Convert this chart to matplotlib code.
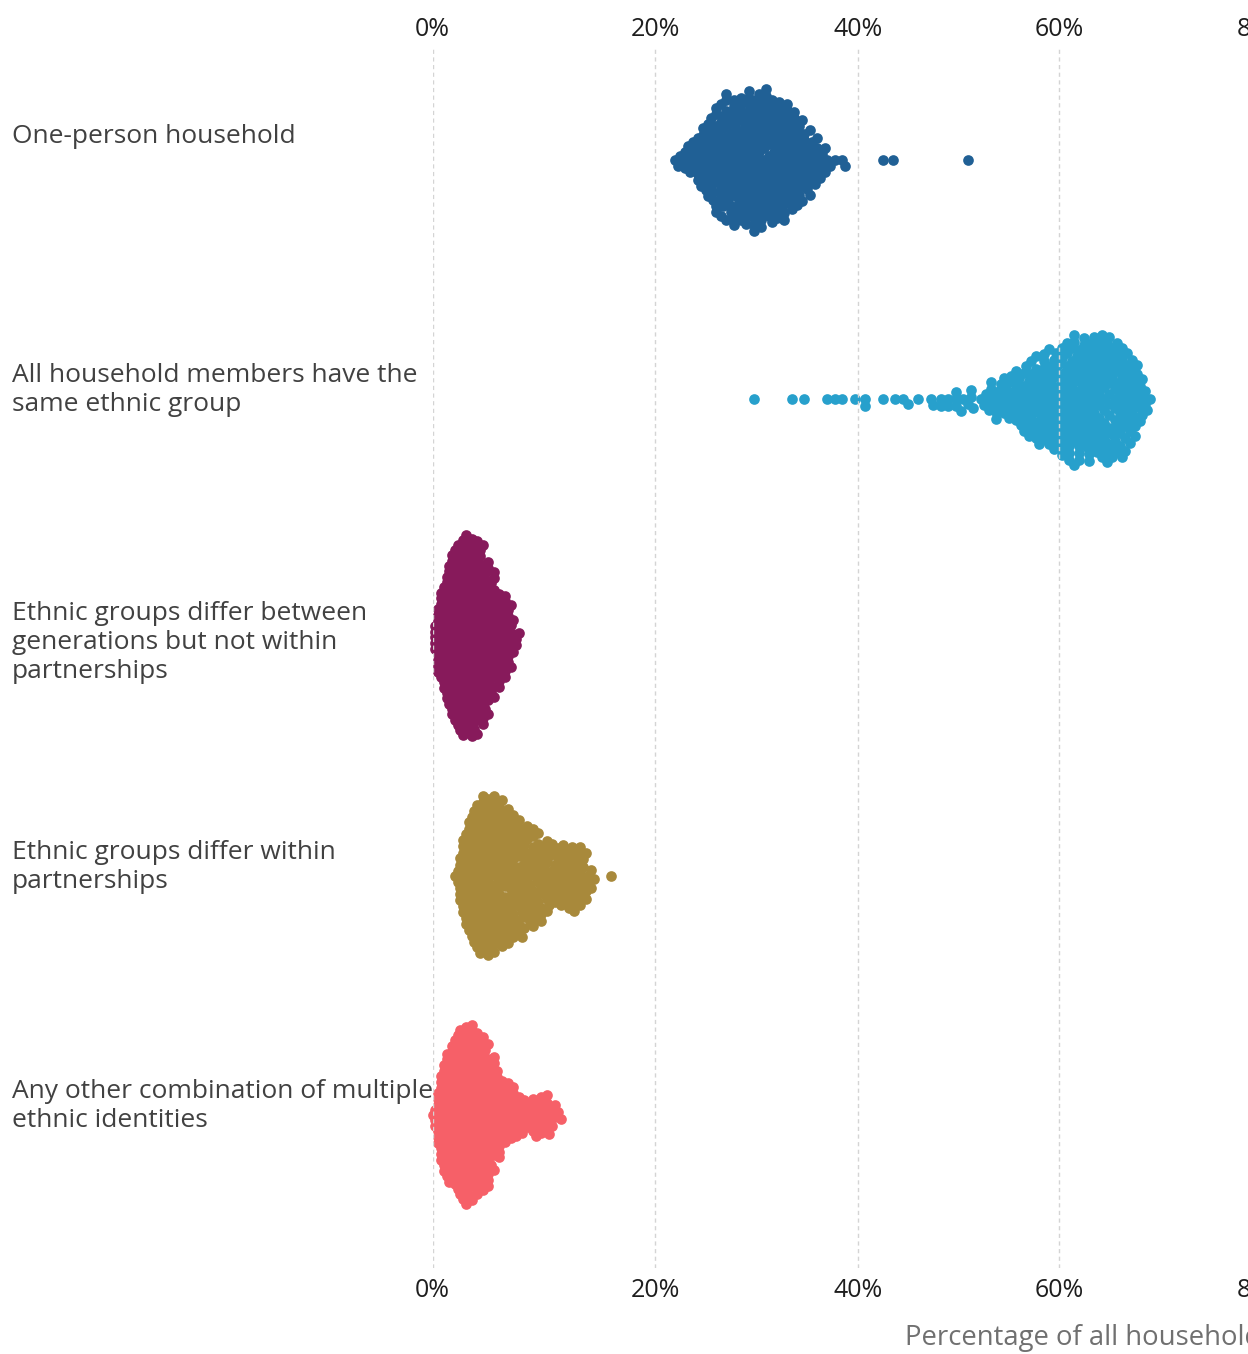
import numpy as np
import matplotlib
matplotlib.use("Agg")
import matplotlib.pyplot as plt
from matplotlib import transforms

plt.rcParams['font.family'] = ['Open Sans', 'DejaVu Sans']

categories = [
    "One-person household",
    "All household members have the\nsame ethnic group",
    "Ethnic groups differ between\ngenerations but not within\npartnerships",
    "Ethnic groups differ within\npartnerships",
    "Any other combination of multiple\nethnic identities",
]
colors = ["#206095", "#27a0cc", "#871a5b", "#a8893b", "#f66068"]

# share of households (%) per area, read off the swarms in 0.25% steps,
# with how many areas sit at each step
one_person_pct = [22.0, 22.25, 22.5, 22.75, 23.0, 23.25, 23.5, 23.75, 24.0, 24.25, 24.5, 24.75,
                  25.0, 25.25, 25.5, 25.75, 26.0, 26.25, 26.5, 26.75, 27.0, 27.25, 27.5, 27.75,
                  28.0, 28.25, 28.5, 28.75, 29.0, 29.25, 29.5, 29.75, 30.0, 30.25, 30.5, 30.75,
                  31.0, 31.25, 31.5, 31.75, 32.0, 32.25, 32.5, 32.75, 33.0, 33.25, 33.5, 33.75,
                  34.0, 34.25, 34.5, 34.75, 35.0, 35.25, 35.5, 35.75, 36.0, 36.25, 36.5, 36.75,
                  37.0, 37.25, 37.75, 38.5, 38.75, 42.5, 43.5, 51.0]
one_person_n = [1, 1, 1, 1, 2, 2, 2, 2, 3, 3, 4, 4,
                5, 5, 5, 6, 6, 6, 7, 7, 7, 7, 7, 8,
                7, 8, 7, 8, 8, 8, 8, 8, 8, 8, 8, 8,
                8, 7, 8, 7, 7, 7, 7, 7, 7, 6, 6, 6,
                6, 5, 5, 4, 4, 4, 3, 3, 3, 2, 2, 2,
                1, 1, 1, 1, 1, 1, 1, 1]

same_pct = [29.75, 33.5, 34.75, 37.0, 37.75, 38.5, 39.75, 40.75, 42.5, 43.75, 44.5, 45.0, 46.0,
            47.25, 47.5, 48.25, 49.0, 49.75, 50.25, 50.5, 51.0, 51.25, 51.5,
            52.25, 52.5, 52.75, 53.0, 53.25, 53.5, 53.75, 54.0, 54.25, 54.5, 54.75, 55.0,
            55.25, 55.5, 55.75, 56.0, 56.25, 56.5, 56.75, 57.0, 57.25, 57.5, 57.75, 58.0,
            58.25, 58.5, 58.75, 59.0, 59.25, 59.5, 59.75, 60.0, 60.25, 60.5, 60.75, 61.0,
            61.25, 61.5, 61.75, 62.0, 62.25, 62.5, 62.75, 63.0, 63.25, 63.5, 63.75, 64.0,
            64.25, 64.5, 64.75, 65.0, 65.25, 65.5, 65.75, 66.0, 66.25, 66.5, 66.75, 67.0,
            67.25, 67.5, 67.75, 68.0, 68.25, 68.5, 68.75, 69.0]
same_n = [1, 1, 1, 1, 1, 1, 1, 2, 1, 1, 1, 1, 1,
          1, 1, 2, 2, 3, 1, 1, 1, 2, 1,
          1, 1, 1, 2, 2, 2, 2, 2, 2, 3, 2, 3,
          2, 3, 3, 3, 3, 4, 4, 4, 4, 5, 4, 5,
          5, 5, 5, 5, 5, 6, 5, 6, 6, 6, 6, 7,
          6, 7, 6, 7, 6, 7, 6, 7, 6, 7, 6, 7,
          6, 7, 6, 7, 6, 6, 6, 6, 6, 6, 5, 5,
          5, 4, 4, 3, 3, 2, 1, 1]

generations_pct = [0.25, 0.5, 0.75, 1.0, 1.25, 1.5, 1.75, 2.0, 2.25, 2.5, 2.75, 3.0,
                   3.25, 3.5, 3.75, 4.0, 4.25, 4.5, 4.75, 5.0, 5.25, 5.5, 5.75, 6.0,
                   6.25, 6.5, 6.75, 7.0, 7.25, 7.5, 7.75]
generations_n = [5, 7, 8, 10, 11, 13, 14, 15, 15, 16, 16, 16,
                 16, 16, 16, 15, 15, 14, 13, 12, 11, 10, 8, 8,
                 7, 7, 6, 5, 3, 2, 1]

within_pct = [2.0, 2.25, 2.5, 2.75, 3.0, 3.25, 3.5, 3.75, 4.0, 4.25, 4.5, 4.75,
              5.0, 5.25, 5.5, 5.75, 6.0, 6.25, 6.5, 6.75, 7.0, 7.25, 7.5, 7.75,
              8.0, 8.25, 8.5, 8.75, 9.0, 9.25, 9.5, 9.75, 10.0, 10.25, 10.5, 10.75,
              11.0, 11.25, 11.5, 11.75, 12.0, 12.25, 12.5, 12.75, 13.0, 13.25, 13.5, 13.75,
              14.0, 14.25, 14.5, 16.0]
within_n = [1, 2, 5, 6, 8, 8, 9, 10, 10, 11, 11, 11,
            11, 11, 11, 10, 10, 10, 9, 9, 9, 8, 8, 8,
            8, 7, 7, 7, 7, 6, 6, 6, 5, 5, 5, 4,
            4, 4, 4, 4, 4, 4, 4, 4, 4, 4, 4, 3,
            2, 2, 1, 1]

other_pct = [0.0, 0.25, 0.5, 0.75, 1.0, 1.25, 1.5, 1.75, 2.0, 2.25, 2.5, 2.75, 3.0,
             3.25, 3.5, 3.75, 4.0, 4.25, 4.5, 4.75, 5.0, 5.25, 5.5, 5.75, 6.0,
             6.25, 6.5, 6.75, 7.0, 7.25, 7.5, 7.75, 8.0, 8.25, 8.5, 8.75, 9.0,
             9.25, 9.5, 9.75, 10.0, 10.25, 10.5, 10.75, 11.0, 11.25, 11.5]
other_n = [1, 3, 6, 8, 10, 10, 11, 11, 12, 13, 13, 14, 14,
           14, 14, 13, 13, 13, 12, 12, 11, 10, 9, 8, 7,
           6, 5, 5, 5, 4, 4, 3, 3, 3, 2, 3, 3,
           3, 3, 3, 3, 3, 3, 2, 2, 1, 1]

groups = [(one_person_pct, one_person_n), (same_pct, same_n),
          (generations_pct, generations_n), (within_pct, within_n),
          (other_pct, other_n)]
swarm_gap = [6.4, 7.0, 5.8, 6.35, 5.9]   # collision distance in pixels

# the axis of the original is not quite evenly spaced: 0-20% is wider than the rest
XP = [-20, 0, 20, 40, 60, 80, 100]
FP = [-222.3, 0, 222.3, 425.0, 626.3, 828.3, 1030.3]
fwd = lambda v: np.interp(v, XP, FP)
inv = lambda v: np.interp(v, FP, XP)


def swarm(xpx, d):
    ys = np.zeros(len(xpx))
    px, py = [], []
    for i in np.argsort(xpx, kind='stable'):
        x = xpx[i]
        ax_ = np.array(px)
        ay_ = np.array(py)
        if len(ax_):
            near = np.abs(ax_ - x) < d
            nx, ny = ax_[near], ay_[near]
        else:
            nx = ny = np.array([])
        cands = [0.0]
        for xj, yj in zip(nx, ny):
            dy = np.sqrt(d * d - (xj - x) ** 2)
            cands += [yj + dy, yj - dy]
        cands = np.array(sorted(cands, key=abs))
        if len(nx):
            ok = ((nx[None, :] - x) ** 2 + (ny[None, :] - cands[:, None]) ** 2 >= d * d - 1e-6).all(axis=1)
            ys[i] = cands[np.argmax(ok)]
        px.append(x)
        py.append(ys[i])
    return ys


W, H = 1248, 1354
fig = plt.figure(figsize=(W / 100, H / 100), dpi=100)
top_px, bot_px = 46, 1268
x0_px, x80_px = 432.7, 1261
ax = fig.add_axes([x0_px / W, 1 - bot_px / H, (x80_px - x0_px) / W, (bot_px - top_px) / H])
ax.set_xscale('function', functions=(fwd, inv))
ax.set_xlim(0, 80)
ax.set_ylim(4.641, -0.4775)

for row, ((pct, n), col, gap) in enumerate(zip(groups, colors, swarm_gap)):
    vals = np.repeat(np.array(pct, float), n)
    xpx = ax.transData.transform(np.column_stack([vals, np.full(len(vals), row)]))[:, 0]
    ppu = abs(ax.transData.transform((0, 1))[1] - ax.transData.transform((0, 0))[1])
    off = swarm(xpx, gap)
    ax.scatter(vals, row + off / ppu, s=59, color=col, linewidths=0, clip_on=False)

ticks = [0, 20, 40, 60, 80]
ax.set_xticks(ticks)
ax.set_xticklabels([f"{t}%" for t in ticks])
ax.set_yticks([])
ax.grid(axis='x', color='#d4d4d4', linestyle=(0, (3, 2.5)), linewidth=1.0)
ax.set_axisbelow(False)
ax.tick_params(axis='x', length=0, pad=7, labelsize=18, labelcolor='#1e1e1e')
for s in ax.spines.values():
    s.set_visible(False)

ax2 = ax.twiny()
ax2.set_xscale('function', functions=(fwd, inv))
ax2.set_xlim(0, 80)
ax2.set_xticks(ticks)
ax2.set_xticklabels([f"{t}%" for t in ticks])
ax2.tick_params(axis='x', length=0, pad=3, labelsize=18, labelcolor='#1e1e1e')
for s in ax2.spines.values():
    s.set_visible(False)

lab_tr = transforms.offset_copy(transforms.blended_transform_factory(fig.transFigure, ax.transData),
                                fig=fig, y=36, units='dots')
for row, lab in enumerate(categories):
    ax.text(12 / W, row, lab, transform=lab_tr, ha='left', va='top', fontsize=19,
            color='#414141', linespacing=1.2)

fig.text(905 / W, 1 - 1338 / H, "Percentage of all households", ha='left', va='center',
         fontsize=19.8, color='#707070')

fig.savefig("out.png", dpi=100)
